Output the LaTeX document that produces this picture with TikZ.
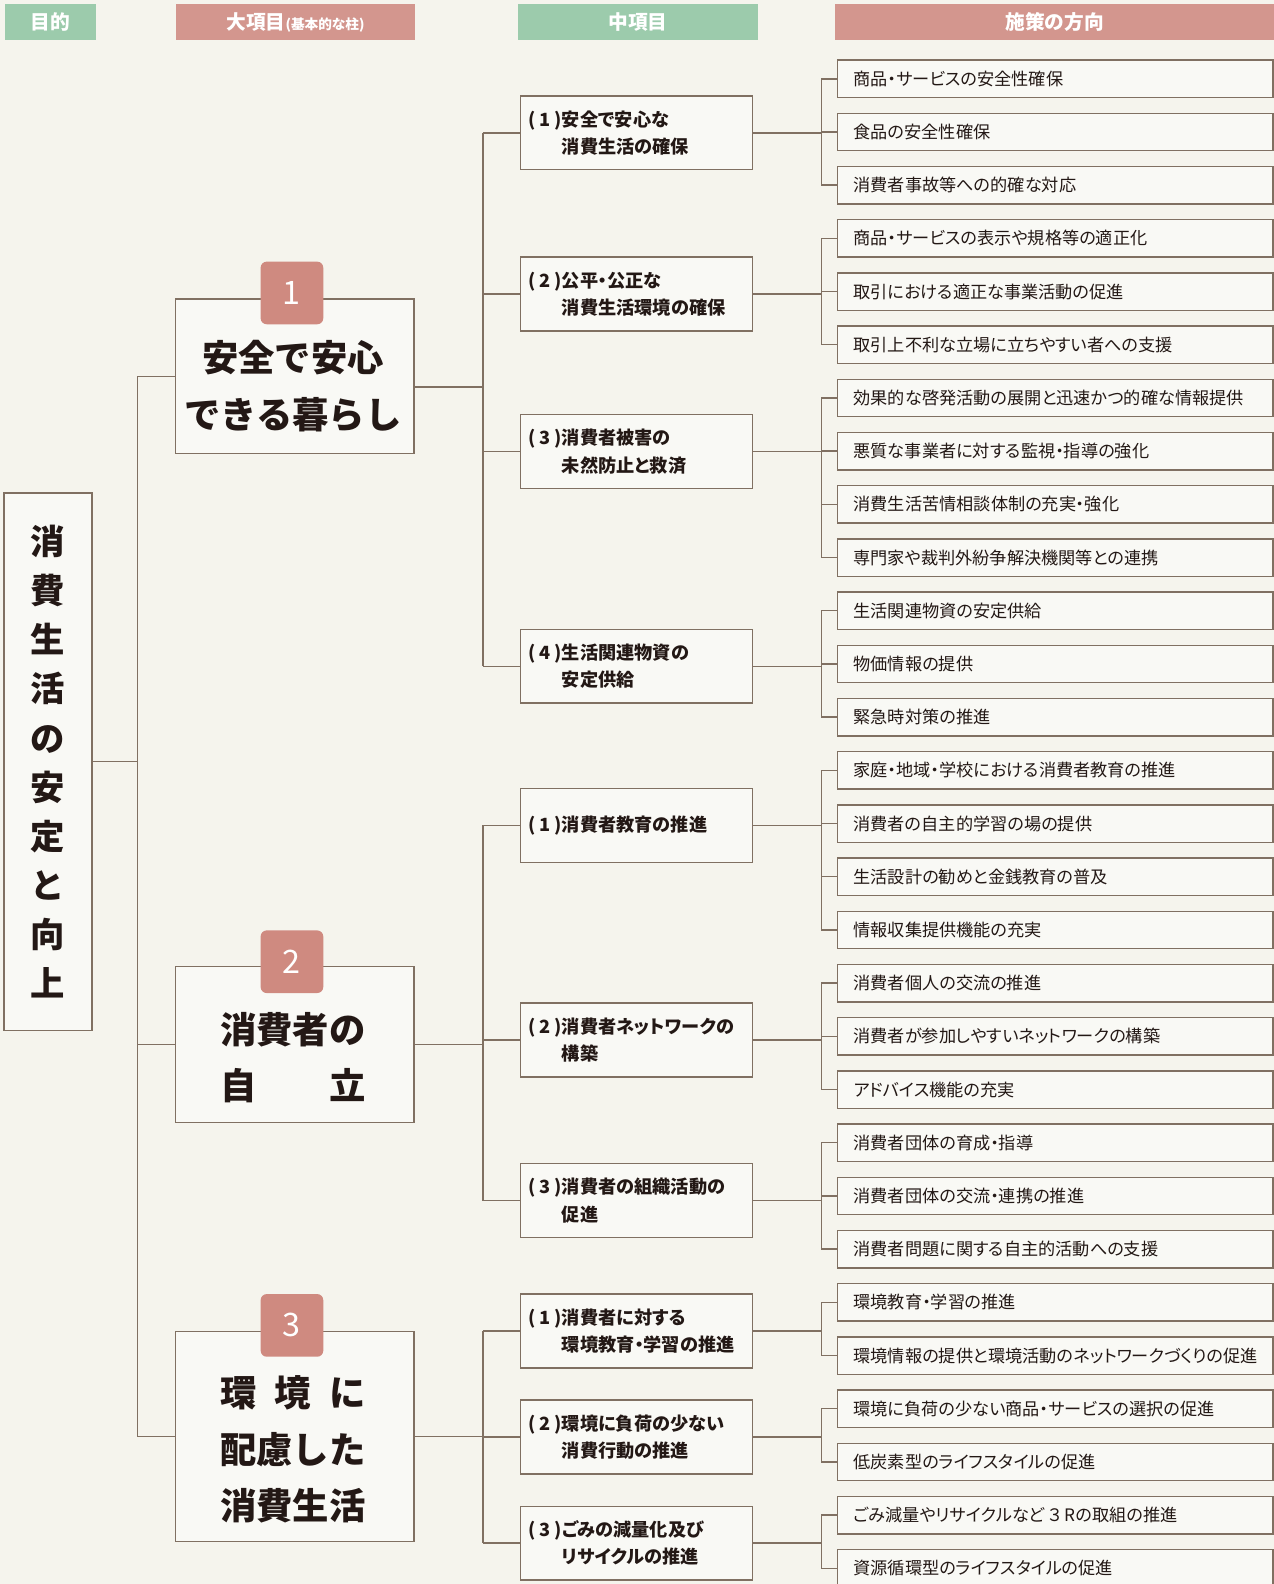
\documentclass[tikz,border=0pt]{standalone}
\usepackage{fontspec}
\setmainfont{Noto Sans CJK JP}
\newfontfamily\jpp{Noto Sans CJK JP}[RawFeature=+palt]
\usetikzlibrary{calc}
\definecolor{bg}{RGB}{245,244,237}
\definecolor{boxfill}{RGB}{249,249,245}
\definecolor{ln}{RGB}{128,112,98}
\definecolor{hg}{RGB}{156,203,172}
\definecolor{hp}{RGB}{211,150,142}
\definecolor{badgec}{RGB}{207,138,128}
\definecolor{txt}{RGB}{35,24,21}
\newcommand{\pn}[1]{\makebox[1.85em][l]{(\hspace{0.22em}#1\hspace{0.22em})}}
\newcommand{\ind}{\hspace*{1.85em}}
\begin{document}
\begin{tikzpicture}[x=1pt,y=-1pt,
  hdr/.style={text=white,font=\jpp\fontsize{19.5}{21}\selectfont\bfseries,minimum height=36pt,inner sep=0pt},
  hdrg/.style={hdr,fill=hg},
  hdrp/.style={hdr,fill=hp},
  conn/.style={draw=ln,line width=1.4pt},
  bigbox/.style={draw=ln,line width=1.4pt,fill=boxfill,minimum width=236pt,inner sep=0pt},
  bigtext/.style={text=txt,font=\fontsize{36}{56}\selectfont\bfseries,align=center,inner sep=0pt},
  badge/.style={fill=badgec,rounded corners=6pt,minimum size=62pt,inner sep=0pt,text=white,font=\fontsize{32}{34}\selectfont},
  midbox/.style={draw=ln,line width=1.4pt,fill=boxfill,minimum width=230pt,minimum height=73pt,text width=214pt,inner xsep=8pt,align=left,text=txt,font=\jpp\fontsize{18}{27}\selectfont\bfseries},
  leaf/.style={draw=ln,line width=1.4pt,fill=boxfill,minimum width=431pt,minimum height=37pt,text width=399pt,inner xsep=16pt,align=left,text=txt,font=\jpp\fontsize{17}{20}\selectfont},
  goalbox/.style={draw=ln,line width=1.4pt,fill=boxfill,minimum width=87pt,minimum height=532pt,inner sep=0pt,align=center,text=txt,font=\fontsize{34}{48.6}\selectfont\bfseries}
]
\fill[bg] (0,0) rectangle (1261,1568);
\useasboundingbox (0,0) rectangle (1261,1568);

% headers
\node[hdrg,minimum width=90pt] (h1) at (50,22) {目的};
\node[hdrp,minimum width=237pt] (h2) at (292.5,22) {大項目{\fontsize{13.5}{15}\selectfont(基本的な柱)}};
\node[hdrg,minimum width=237pt] (h3) at (631.5,22) {中項目};
\node[hdrp,minimum width=434pt] (h4) at (1044,22) {施策の方向};

% goal
\node[goalbox] (goal) at (47.5,754) {消\\費\\生\\活\\の\\安\\定\\と\\向\\上};

% big boxes
\node[bigbox,minimum height=153pt] (b1) at (292,372.5) {};
\node[bigbox,minimum height=154pt] (b2) at (292,1034) {};
\node[bigbox,minimum height=208pt] (b3) at (292,1422) {};
\node[badge] (n1) at (289,290) {1};
\node[badge] (n2) at (289,952) {2};
\node[badge] (n3) at (289,1312) {3};
\node[bigtext] (t1) at (290,382) {安全で安心\\できる暮らし};
\node[bigtext] (t2) at (290,1047) {消費者の\\自\hspace{2em}立};
\node[bigtext] (t3) at (290,1435) {環\hspace{0.5em}境\hspace{0.5em}に\\配慮した\\消費生活};

% mid boxes
\node[midbox] (m1) at (630,131.5) {\pn{1}安全で安心な\\\ind 消費生活の確保};
\node[midbox] (m2) at (630,291) {\pn{2}公平・公正な\\\ind 消費生活環境の確保};
\node[midbox] (m3) at (630,447) {\pn{3}消費者被害の\\\ind 未然防止と救済};
\node[midbox] (m4) at (630,659.5) {\pn{4}生活関連物資の\\\ind 安定供給};
\node[midbox] (m5) at (630,817) {\pn{1}消費者教育の推進};
\node[midbox] (m6) at (630,1029.5) {\pn{2}消費者ネットワークの\\\ind 構築};
\node[midbox] (m7) at (630,1188.5) {\pn{3}消費者の組織活動の\\\ind 促進};
\node[midbox] (m8) at (630,1317.5) {\pn{1}消費者に対する\\\ind 環境教育・学習の推進};
\node[midbox] (m9) at (630,1422.5) {\pn{2}環境に負荷の少ない\\\ind 消費行動の推進};
\node[midbox] (m10) at (630,1527.5) {\pn{3}ごみの減量化及び\\\ind リサイクルの推進};

% leaves
\foreach \t [count=\i from 0] in {
 商品・サービスの安全性確保,
 食品の安全性確保,
 消費者事故等への的確な対応,
 商品・サービスの表示や規格等の適正化,
 取引における適正な事業活動の促進,
 取引上不利な立場に立ちやすい者への支援,
 効果的な啓発活動の展開と迅速かつ的確な情報提供,
 悪質な事業者に対する監視・指導の強化,
 消費生活苦情相談体制の充実・強化,
 専門家や裁判外紛争解決機関等との連携,
 生活関連物資の安定供給,
 物価情報の提供,
 緊急時対策の推進,
 家庭・地域・学校における消費者教育の推進,
 消費者の自主的学習の場の提供,
 生活設計の勧めと金銭教育の普及,
 情報収集提供機能の充実,
 消費者個人の交流の推進,
 消費者が参加しやすいネットワークの構築,
 アドバイス機能の充実,
 消費者団体の育成・指導,
 消費者団体の交流・連携の推進,
 消費者問題に関する自主的活動への支援,
 環境教育・学習の推進,
 環境情報の提供と環境活動のネットワークづくりの促進,
 環境に負荷の少ない商品・サービスの選択の促進,
 低炭素型のライフスタイルの促進,
 ごみ減量やリサイクルなど\hspace{0.2em}３\hspace{0.2em}Rの取組の推進,
 資源循環型のライフスタイルの促進}
 \node[leaf] (l\i) at (1044.5,{78+52.66*\i}) {\makebox[399pt][l]{\t}};

% connectors
\coordinate (trk) at (136,0);
\coordinate (mx) at (478,0);
\coordinate (lx) at (813,0);
\coordinate (b1r) at ([yshift=-10.5pt]b1.east);

\draw[conn] (goal.east) -- (goal.east -| trk);
\draw[conn] (trk |- b1.west) -- (trk |- b3.west);
\foreach \b in {b1,b2,b3} \draw[conn] (trk |- \b.west) -- (\b.west);

\draw[conn] (b1r) -- (b1r -| mx);
\draw[conn] (b2.east) -- (b2.east -| mx);
\draw[conn] (b3.east) -- (b3.east -| mx);
\draw[conn] (mx |- m1.west) -- (mx |- m4.west);
\draw[conn] (mx |- m5.west) -- (mx |- m7.west);
\draw[conn] (mx |- m8.west) -- (mx |- m10.west);
\foreach \m in {1,...,10} \draw[conn] (mx |- m\m.west) -- (m\m.west);

\foreach \m/\a/\b in {1/0/2,2/3/5,3/6/9,4/10/12,5/13/16,6/17/19,7/20/22,8/23/24,9/25/26,10/27/28}{
  \draw[conn] (m\m.east) -- (m\m.east -| lx);
  \draw[conn] (lx |- l\a.west) -- (lx |- l\b.west);
  \foreach \k in {\a,...,\b} \draw[conn] (lx |- l\k.west) -- (l\k.west);
}
\end{tikzpicture}
\end{document}
